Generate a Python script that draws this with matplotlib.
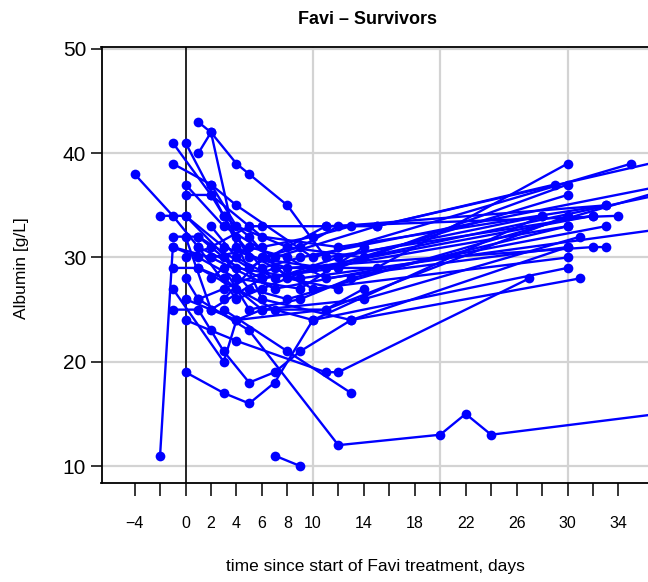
import numpy as np
import matplotlib.pyplot as plt

plt.rcParams['font.family'] = ['Liberation Sans', 'DejaVu Sans']

# albumin per surviving patient: (day since start of Favi, g/L)
pt01 = [(-4, 38), (-1, 34), (1, 31), (6, 28), (30, 33)]
pt02 = [(-2, 34), (0, 34), (3, 31), (8, 29), (32, 31), (33, 31)]
pt03 = [(-2, 11), (-1, 31), (2, 30), (7, 27), (33, 33)]
pt04 = [(-1, 41), (2, 36), (5, 30), (11, 29), (30, 36)]
pt05 = [(0, 41), (3, 34), (6, 26), (13, 24), (30, 31)]
pt06 = [(1, 43), (2, 42), (4, 39), (5, 38), (8, 35), (11, 30), (32, 34)]
pt07 = [(1, 40), (2, 42), (4, 31), (10, 27), (30, 30)]
pt08 = [(-1, 39), (2, 37), (4, 35), (10, 30), (35, 39)]
pt09 = [(0, 37), (3, 33), (7, 30), (15, 33), (29, 37)]
pt10 = [(0, 36), (2, 36), (6, 32), (12, 31), (33, 35)]
pt11 = [(-1, 32), (1, 32), (5, 29), (11, 33), (15, 33), (40, 40)]
pt12 = [(0, 19), (3, 17), (5, 16), (7, 18), (10, 24), (30, 29)]
pt13 = [(-1, 25), (1, 25), (3, 21), (5, 18), (7, 19), (9, 21), (13, 24), (31, 28)]
pt14 = [(0, 24), (2, 23), (4, 22), (11, 19), (12, 19), (27, 28)]
pt15 = [(-1, 27), (3, 20), (4, 24), (11, 25), (30, 34)]
pt16 = [(1, 26), (5, 23), (12, 12), (20, 13), (22, 15), (24, 13), (45, 16.2)]
pt17 = [(3, 25), (8, 21), (13, 17)]
pt18 = [(7, 11), (9, 10)]
pt19 = [(0, 32), (2, 25), (4, 24), (6, 25), (14, 26), (31, 32)]
pt20 = [(-1, 29), (1, 29), (4, 27), (7, 25), (10, 24), (28, 34)]
pt21 = [(0, 30), (2, 31), (5, 33), (6, 33), (11, 33), (34, 34)]
pt22 = [(0, 28), (1, 26), (3, 27), (7, 29), (15, 29), (30, 39)]
pt23 = [(0, 26), (2, 25), (6, 28), (12, 29), (30, 37)]
pt24 = [(-1, 31), (1, 30), (4, 28), (9, 27), (14, 31)]
pt25 = [(1, 32), (3, 30), (5, 27), (8, 26), (42, 38)]
pt26 = [(2, 37), (4, 33), (8, 31), (14, 30), (41, 37)]
pt27 = [(0, 34), (4, 29), (9, 28), (45, 34)]
pt28 = [(3, 34), (5, 32), (8, 28), (12, 27)]
pt29 = [(2, 30), (6, 31), (10, 32), (13, 33)]
pt30 = [(1, 29), (3, 28), (6, 25), (11, 25), (14, 27)]
pt31 = [(2, 33), (4, 30), (7, 28), (12, 30), (28, 34)]
pt32 = [(3, 29), (5, 25), (9, 26), (13, 28), (30, 33)]
pt33 = [(1, 31), (4, 26), (6, 27), (10, 29), (32, 34)]
pt34 = [(4, 32), (6, 29), (9, 30), (38, 37)]
pt35 = [(2, 28), (5, 31), (8, 30), (11, 28), (30, 31)]
pt36 = [(3, 26), (6, 30), (9, 31), (12, 33), (33, 35)]

patients = [pt01, pt02, pt03, pt04, pt05, pt06, pt07, pt08, pt09, pt10,
            pt11, pt12, pt13, pt14, pt15, pt16, pt17, pt18, pt19, pt20,
            pt21, pt22, pt23, pt24, pt25, pt26, pt27, pt28, pt29, pt30,
            pt31, pt32, pt33, pt34, pt35, pt36]

x_ticks = np.arange(-4, 35, 2)
x_labelled = [-4, 0, 2, 4, 6, 8, 10, 14, 18, 22, 26, 30, 34]
y_ticks = [10, 20, 30, 40, 50]
x_grid = [10, 20, 30]

W, H = 648, 582
fig = plt.figure(figsize=(W / 100, H / 100), dpi=100)
left_px, top_px, bottom_px = 101.5, 47, 483
ax = fig.add_axes([left_px / W, 1 - bottom_px / H, 1 - left_px / W, (bottom_px - top_px) / H])

blue = '#0000ff'
grid_col = '#d3d3d3'

for y in y_ticks:
    ax.axhline(y, color=grid_col, lw=1.6, zorder=1)
for x in x_grid:
    ax.axvline(x, color=grid_col, lw=1.6, zorder=1)
ax.axvline(0, color='black', lw=1.2, zorder=1.5)

for pts in patients:
    arr = np.array(pts)
    ax.plot(arr[:, 0], arr[:, 1], '-o', color=blue, lw=1.7, ms=7, mew=0, zorder=3)

ax.set_xlim(-6.6, 36.32)
ax.set_ylim(8.37, 50.19)

ax.set_xticks(x_ticks)
ax.set_xticklabels([(str(t).replace('-', '\u2212') if t in x_labelled else '') for t in x_ticks])
ax.set_yticks(y_ticks)
ax.tick_params(axis='x', direction='out', length=9.5, width=1.1, pad=14, labelsize=11.5)
ax.tick_params(axis='y', direction='out', length=8, width=1.1, pad=3, labelsize=15)

for side in ('left', 'top', 'bottom'):
    ax.spines[side].set_linewidth(1.3)
ax.spines['right'].set_visible(False)

fig.text(368 / W, 1 - 20 / H, 'Favi \u2013 Survivors', ha='center', va='center',
         fontsize=13, fontweight='bold')
fig.text(375 / W, 1 - 566 / H, 'time since start of Favi treatment, days',
         ha='center', va='center', fontsize=12.5)
fig.text(22 / W, 1 - 268 / H, 'Albumin [g/L]', ha='center', va='center',
         rotation=90, fontsize=12.5)

fig.savefig('out.png', dpi=100)
plt.close(fig)
